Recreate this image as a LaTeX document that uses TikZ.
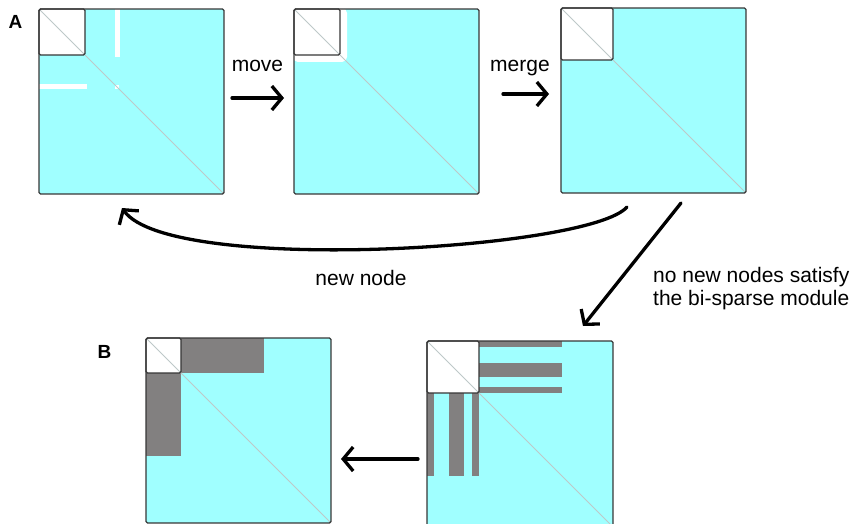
\documentclass[tikz,border=0pt]{standalone}
\usepackage{fontspec}
\setmainfont{Liberation Sans}
\usetikzlibrary{arrows.meta}
\definecolor{cyanfill}{RGB}{160,255,255}
\definecolor{barg}{RGB}{130,128,128}
\definecolor{frameg}{RGB}{55,55,55}
\definecolor{diagg}{RGB}{190,200,200}
\begin{document}
\begin{tikzpicture}[x=1pt,y=-1pt,
  matframe/.style={draw=frameg,line width=1.4pt,rounded corners=1.5pt,inner sep=0pt,minimum size=#1},
  cyanbg/.style={fill=cyanfill},
  blk/.style={draw=frameg,line width=1.4pt,rounded corners=1.5pt},
  blkfill/.style={fill=white},
  bar/.style={fill=barg},
  gap/.style={fill=white},
  diag/.style={draw=diagg,line width=0.9pt},
  arr/.style={line width=3.3pt,line cap=round,-{Straight Barb[length=10pt,width=24pt]}},
  lab/.style={font=\fontsize{21}{23}\selectfont,inner sep=0pt},
  panel/.style={font=\fontsize{19}{19}\selectfont\bfseries,inner sep=0pt,anchor=base}]
\useasboundingbox (0,0) rectangle (857,524);
\clip (0,0) rectangle (857,524);

% ---------- Matrix 1 ----------
\begin{scope}[shift={(39,9)}]
  \fill[cyanbg] (0,0) rectangle (185,185);
  \fill[blkfill] (0,0) rectangle (46,46);
  \fill[gap] (75.5,0) rectangle (80.5,48);
  \fill[gap] (0,75.5) rectangle (48,80.5);
  \fill[gap] (76,76) rectangle (80,80);
  \draw[diag] (0,0) -- (185,185);
  \draw[blk] (0,0) rectangle (46,46);
  \node[matframe=185pt] (m1) at (92.5,92.5) {};
\end{scope}

% ---------- Matrix 2 ----------
\begin{scope}[shift={(294,9)}]
  \fill[cyanbg] (0,0) rectangle (185,185);
  \fill[gap,rounded corners=5pt] (-1,-1) rectangle (53,53);
  \draw[diag] (0,0) -- (185,185);
  \draw[blk] (0,0) rectangle (46,46);
  \node[matframe=185pt] (m2) at (92.5,92.5) {};
\end{scope}

% ---------- Matrix 3 ----------
\begin{scope}[shift={(561,8)}]
  \fill[cyanbg] (0,0) rectangle (185,185);
  \fill[blkfill] (0,0) rectangle (52,52);
  \draw[diag] (0,0) -- (185,185);
  \draw[blk] (0,0) rectangle (52,52);
  \node[matframe=185pt] (m3) at (92.5,92.5) {};
\end{scope}

% ---------- Matrix B1 (bottom left) ----------
\begin{scope}[shift={(146,338)}]
  \fill[cyanbg] (0,0) rectangle (185,185);
  \fill[blkfill] (0,0) rectangle (35,35);
  \fill[bar] (35,0) rectangle (118,35);
  \fill[bar] (0,35) rectangle (35,118);
  \draw[diag] (0,0) -- (185,185);
  \draw[blk] (0,0) rectangle (35,35);
  \node[matframe=185pt] (m5) at (92.5,92.5) {};
\end{scope}

% ---------- Matrix B2 (bottom right) ----------
\begin{scope}[shift={(427,341)}]
  \fill[cyanbg] (0,0) rectangle (186,186);
  \fill[blkfill] (0,0) rectangle (52,52);
  \fill[bar] (52,0) rectangle (135,6);
  \fill[bar] (52,22) rectangle (135,36);
  \fill[bar] (52,46) rectangle (135,52);
  \fill[bar] (0,52) rectangle (7,135);
  \fill[bar] (22,52) rectangle (37,135);
  \fill[bar] (45,52) rectangle (52,135);
  \draw[diag] (0,0) -- (186,186);
  \draw[blk] (0,0) rectangle (52,52);
  \node[matframe=186pt] (m4) at (93,93) {};
\end{scope}

% ---------- Labels ----------
\node[panel] (lA) at (15.5,29) {A};
\node[panel] (lB) at (104.5,358) {B};
\node[lab,anchor=base] (lmove) at (257.5,72) {move};
\node[lab,anchor=base] (lmerge) at (520,72) {merge};
\node[lab,anchor=base] (lnew) at (361,285) {new node};
\node[lab,align=left,anchor=north west] (lno) at (653,267) {no new nodes satisfy\\the bi-sparse module};

% ---------- Arrow end points ----------
\coordinate (a1s) at (232,98);
\coordinate (a1e) at (284,98);
\coordinate (a2s) at (503,94);
\coordinate (a2e) at (549,94);
\coordinate (a3s) at (627,207);
\coordinate (a3e) at (122,208);
\coordinate (a4s) at (681,203);
\coordinate (a4e) at (583,326);
\coordinate (a5s) at (418,459);
\coordinate (a5e) at (341,459);

\draw[arr] (a1s) -- (a1e);
\draw[arr] (a2s) -- (a2e);
\draw[arr] (a3s) .. controls (590,250) and (170,275) .. (a3e);
\draw[arr] (a4s) -- (a4e);
\draw[arr] (a5s) -- (a5e);
\end{tikzpicture}
\end{document}
